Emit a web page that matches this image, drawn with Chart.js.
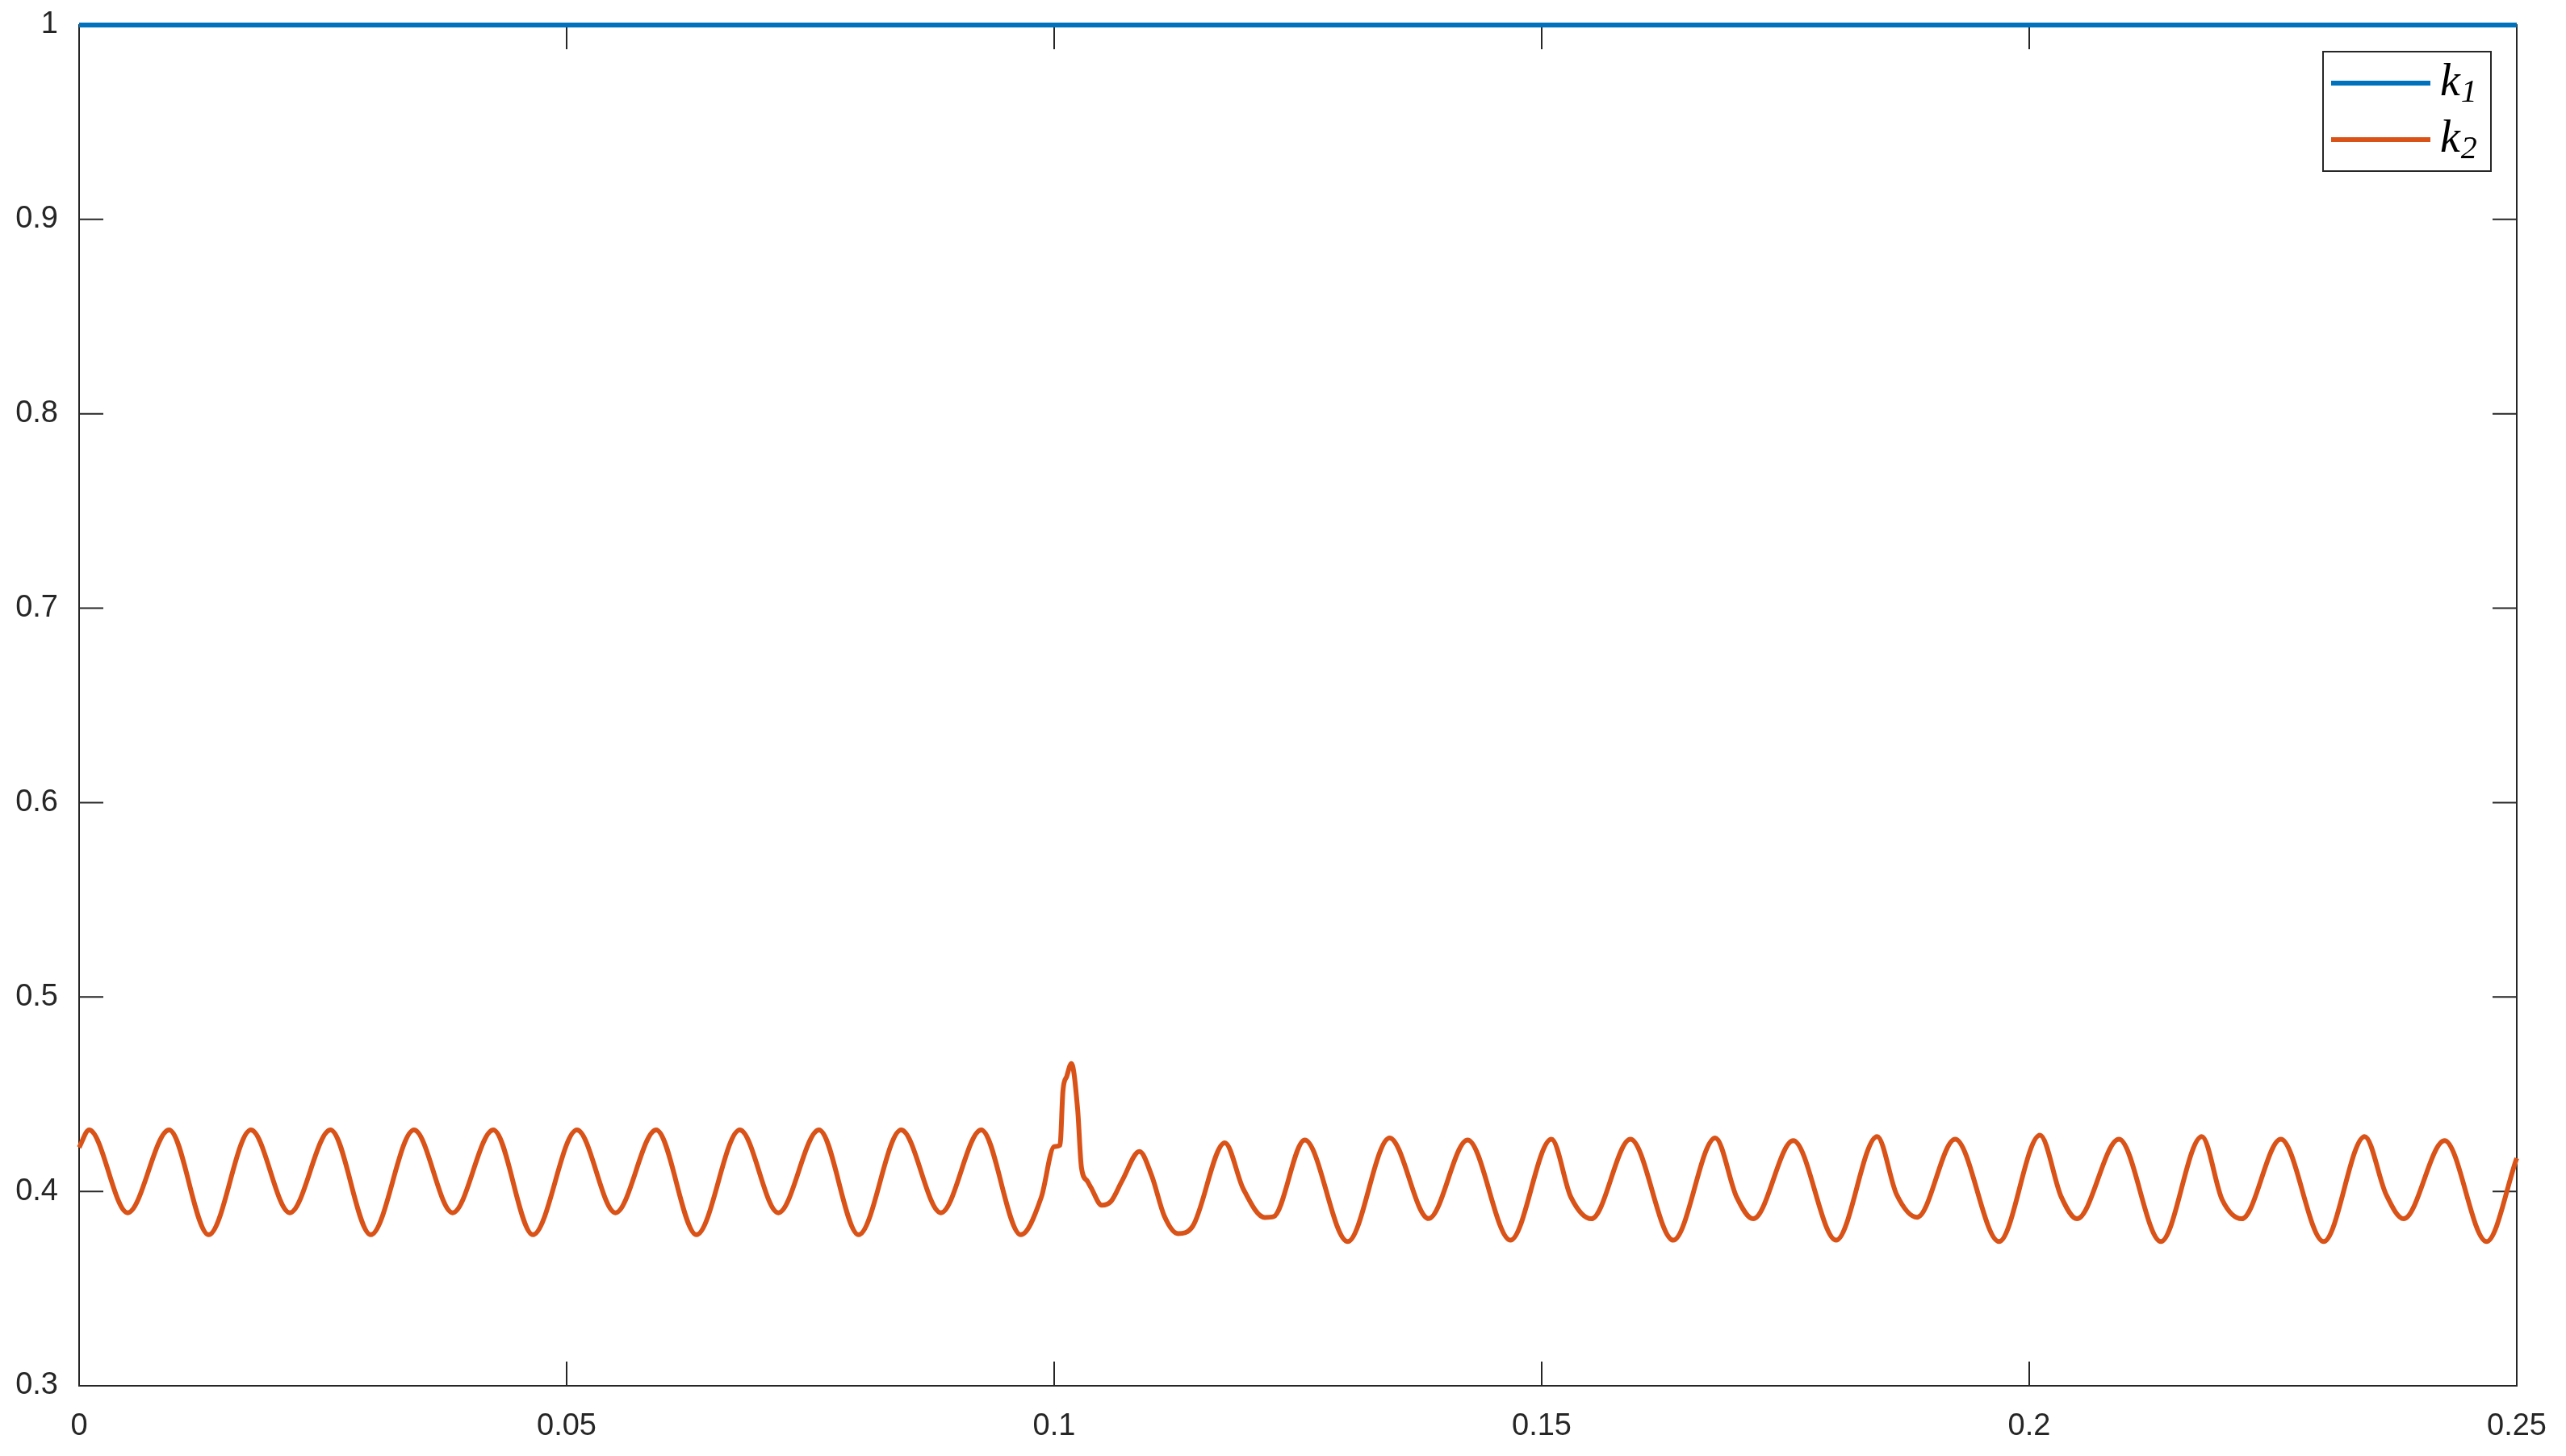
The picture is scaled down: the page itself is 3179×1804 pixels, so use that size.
<!DOCTYPE html>
<html>
<head>
<meta charset="utf-8">
<script src="https://cdn.jsdelivr.net/npm/chart.js@4.4.0/dist/chart.umd.min.js"></script>
<style>
  html, body { margin: 0; padding: 0; background: #fff; }
  #wrap { width: 3179px; height: 1804px; }
</style>
</head>
<body>
<div id="wrap"><canvas id="myChart" width="3179" height="1804"></canvas></div>
<script>
// k1 stays at 1 the whole time
const t1 = [0, 0.25];
const k1 = [1, 1];

// k2 (peaks, troughs and a few flank points)
const t2 = [
  0, 0.00103, 0.00498, 0.00923, 0.01329, 0.01762, 0.02161, 0.02578, 0.02992, 0.03435,
  0.03831, 0.04248, 0.04655, 0.05106, 0.05501, 0.05918, 0.06332, 0.06776, 0.07171, 0.07588,
  0.07995, 0.08431, 0.08838, 0.09252, 0.09658, 0.09868, 0.10000, 0.10060, 0.10090, 0.10130,
  0.10177, 0.10240, 0.10280, 0.10340, 0.10378, 0.10488, 0.10585, 0.10695, 0.10875, 0.11000,
  0.11130, 0.11270, 0.11420, 0.11750, 0.11940, 0.12160, 0.12250, 0.12570, 0.13010, 0.13440,
  0.13840, 0.14240, 0.14680, 0.15100, 0.15300, 0.15510, 0.15910, 0.16350, 0.16780, 0.17000,
  0.17170, 0.17580, 0.18020, 0.18440, 0.18640, 0.18850, 0.19240, 0.19690, 0.20110, 0.20330,
  0.20490, 0.20920, 0.21350, 0.21770, 0.21980, 0.22180, 0.22580, 0.23020, 0.23440, 0.23660,
  0.23840, 0.24260, 0.24690, 0.25000
];
const k2 = [
  0.4226, 0.4316, 0.3890, 0.4316, 0.3777, 0.4316, 0.3890, 0.4316, 0.3777, 0.4316,
  0.3890, 0.4316, 0.3777, 0.4316, 0.3890, 0.4316, 0.3777, 0.4316, 0.3890, 0.4316,
  0.3777, 0.4316, 0.3890, 0.4316, 0.3777, 0.3970, 0.4230, 0.4238, 0.4517, 0.4593,
  0.4658, 0.4427, 0.4122, 0.4053, 0.4019, 0.3929, 0.3950, 0.4053, 0.4205, 0.4081,
  0.3873, 0.3783, 0.3820, 0.4250, 0.4012, 0.3866, 0.3870, 0.4264, 0.3742, 0.4275,
  0.3860, 0.4264, 0.3749, 0.4268, 0.3970, 0.3859, 0.4268, 0.3749, 0.4275, 0.3970,
  0.3859, 0.4261, 0.3749, 0.4282, 0.3984, 0.3867, 0.4268, 0.3742, 0.4289, 0.3970,
  0.3859, 0.4268, 0.3742, 0.4282, 0.3956, 0.3859, 0.4268, 0.3742, 0.4282, 0.3984,
  0.3859, 0.4261, 0.3742, 0.4171
];

const seriesNames = ['k_1', 'k_2'];
const seriesColors = ['#0072BD', '#D95319'];

const xTicks = [0, 0.05, 0.1, 0.15, 0.2, 0.25];
const xTickLabels = ['0', '0.05', '0.1', '0.15', '0.2', '0.25'];
const yTicks = [0.3, 0.4, 0.5, 0.6, 0.7, 0.8, 0.9, 1];
const yTickLabels = ['0.3', '0.4', '0.5', '0.6', '0.7', '0.8', '0.9', '1'];

const axisColor = '#262626';
// plot box in canvas pixels
const area = { left: 98, top: 31, right: 3118, bottom: 1717 };

const toPoints = (xs, ys) => xs.map((v, i) => ({ x: v, y: ys[i] }));

// matlab style box, inward ticks, and the legend with subscripts
const boxPlugin = {
  id: 'box',
  afterLayout(chart) {
    // pin the plot box so it sits where the original one does
    const a = chart.chartArea;
    Object.assign(a, area, { width: area.right - area.left, height: area.bottom - area.top });
    const { x, y } = chart.scales;
    y.top = area.top; y.bottom = area.bottom; y.height = area.bottom - area.top;
    y.left = 0; y.right = area.left; y.width = area.left;
    y.configure();
    x.left = area.left; x.right = area.right; x.width = area.right - area.left;
    x.top = area.bottom; x.bottom = chart.height; x.height = chart.height - area.bottom;
    x.configure();
  },
  beforeDatasetsDraw(chart) {
    const { ctx, chartArea: a, scales } = chart;
    const len = 30;
    ctx.save();
    ctx.strokeStyle = axisColor;
    ctx.lineWidth = 2;
    ctx.strokeRect(a.left, a.top, a.right - a.left, a.bottom - a.top);
    ctx.beginPath();
    xTicks.forEach(v => {
      const px = scales.x.getPixelForValue(v);
      ctx.moveTo(px, a.bottom); ctx.lineTo(px, a.bottom - len);
      ctx.moveTo(px, a.top); ctx.lineTo(px, a.top + len);
    });
    yTicks.forEach(v => {
      const py = scales.y.getPixelForValue(v);
      ctx.moveTo(a.left, py); ctx.lineTo(a.left + len, py);
      ctx.moveTo(a.right, py); ctx.lineTo(a.right - len, py);
    });
    ctx.stroke();
    ctx.restore();
  },
  afterDatasetsDraw(chart) {
    const { ctx, chartArea: a } = chart;
    const w = 208, h = 148;
    const bx = a.right - 32 - w, by = a.top + 33;
    ctx.save();
    ctx.fillStyle = '#fff';
    ctx.fillRect(bx, by, w, h);
    ctx.strokeStyle = axisColor;
    ctx.lineWidth = 2;
    ctx.strokeRect(bx, by, w, h);
    chart.data.datasets.forEach((ds, i) => {
      const cy = by + 39 + i * 70;
      ctx.strokeStyle = ds.borderColor;
      ctx.lineWidth = 6;
      ctx.beginPath();
      ctx.moveTo(bx + 10, cy);
      ctx.lineTo(bx + 133, cy);
      ctx.stroke();
      const [main, sub] = ds.label.split('_');
      ctx.fillStyle = '#000';
      ctx.textBaseline = 'alphabetic';
      ctx.font = 'italic 56px "Liberation Serif"';
      const tx = bx + 145;
      ctx.fillText(main, tx, cy + 15);
      const mw = ctx.measureText(main).width;
      ctx.font = 'italic 40px "Liberation Serif"';
      ctx.fillText(sub, tx + mw + 1, cy + 23);
    });
    ctx.restore();
  }
};

Chart.defaults.color = axisColor;
Chart.defaults.font.family = '"Liberation Sans", Arial, sans-serif';
Chart.defaults.font.size = 38;

const ctx = document.querySelector('#myChart');
/* eslint-disable no-unused-vars */
const myChart = new Chart(ctx, {
  type: 'line',
  data: {
    datasets: [{
      label: seriesNames[0],
      data: toPoints(t1, k1),
      borderColor: seriesColors[0],
      borderWidth: 6,
      pointRadius: 0,
      clip: false
    }, {
      label: seriesNames[1],
      data: toPoints(t2, k2),
      borderColor: seriesColors[1],
      borderWidth: 6,
      pointRadius: 0,
      cubicInterpolationMode: 'monotone',
      clip: false
    }]
  },
  options: {
    responsive: false,
    animation: false,
    devicePixelRatio: 1,
    layout: { padding: { top: 31, right: 61, left: 0, bottom: 0 } },
    plugins: { legend: { display: false }, tooltip: { enabled: false } },
    scales: {
      x: {
        type: 'linear',
        min: 0,
        max: 0.25,
        grid: { display: false },
        border: { display: false },
        afterBuildTicks: s => { s.ticks = xTicks.map(v => ({ value: v })); },
        afterFit: s => { s.height = 87; },
        ticks: {
          padding: 20,
          maxRotation: 0,
          callback: v => xTickLabels[xTicks.indexOf(v)]
        }
      },
      y: {
        type: 'linear',
        min: 0.3,
        max: 1,
        grid: { display: false },
        border: { display: false },
        afterBuildTicks: s => { s.ticks = yTicks.map(v => ({ value: v })); },
        afterFit: s => { s.width = 98; },
        ticks: {
          padding: 18,
          callback: v => yTickLabels[yTicks.indexOf(v)]
        }
      }
    }
  },
  plugins: [boxPlugin]
});
</script>
</body>
</html>
